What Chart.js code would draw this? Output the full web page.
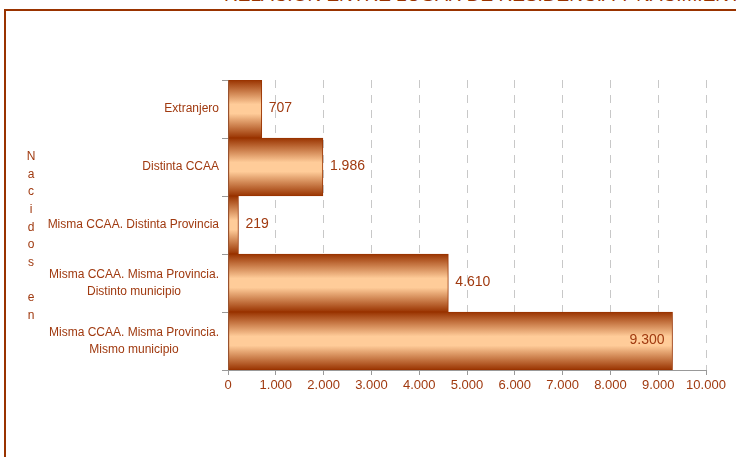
<!DOCTYPE html>
<html>
<head>
<meta charset="utf-8">
<script src="https://cdn.jsdelivr.net/npm/chart.js@4/dist/chart.umd.min.js"></script>
<style>
  html, body { margin: 0; padding: 0; background: #fff; overflow: hidden; }
  #wrap { position: relative; width: 736px; height: 457px; overflow: hidden; }
  #marco { position: absolute; left: 4px; top: 9px; width: 800px; height: 600px; border: 2px solid #993300; }
  #titulo { position: absolute; left: 224px; top: -15px; font: 19px/20px "Liberation Sans", Arial, sans-serif; color: #993300; white-space: nowrap; }
  canvas { position: absolute; left: 0; top: 0; }
</style>
</head>
<body>
<div id="wrap">
  <div id="titulo"></div>
  <div id="marco"></div>
  <canvas id="grafico" width="736" height="457"></canvas>
</div>
<script>
const titulo = 'RELACIÓN ENTRE LUGAR DE RESIDENCIA Y NACIMIENTO';
const tituloEje = 'Nacidos en';
const categorias = [
    ['Extranjero'],
    ['Distinta CCAA'],
    ['Misma CCAA. Distinta Provincia'],
    ['Misma CCAA. Misma Provincia.', 'Distinto municipio'],
    ['Misma CCAA. Misma Provincia.', 'Mismo municipio']
];
const valores = [707, 1986, 219, 4610, 9300];
const ejeMin = 0;
const ejeMax = 10000;
const ejePaso = 1000;

const colorTexto = '#a03a10';
const fuente = '"Liberation Sans", Arial, sans-serif';

document.getElementById('titulo').textContent = titulo;

// 9300 -> "9.300"
function formato(n) {
    return String(Math.round(n)).replace(/\B(?=(\d{3})+(?!\d))/g, '.');
}

// degradado vertical de cada barra: oscuro en los bordes, claro en el centro
function degradado(context) {
    const chart = context.chart;
    const area = chart.chartArea;
    if (!area) return '#e0a070';
    const alto = area.height / chart.data.labels.length;
    const yc = chart.scales.y.getPixelForValue(context.dataIndex);
    const g = chart.ctx.createLinearGradient(0, yc - alto / 2, 0, yc + alto / 2);
    g.addColorStop(0, '#993300');
    g.addColorStop(0.42, '#ffcc99');
    g.addColorStop(0.58, '#ffcc99');
    g.addColorStop(1, '#993300');
    return g;
}

const textos = {
    id: 'textos',
    afterDraw(chart) {
        const { ctx, chartArea } = chart;
        const y = chart.scales.y;
        ctx.save();
        ctx.fillStyle = colorTexto;
        ctx.textBaseline = 'middle';

        // etiquetas de categoria (lineas centradas entre si, bloque alineado a la derecha)
        ctx.font = '12px ' + fuente;
        ctx.textAlign = 'center';
        chart.data.labels.forEach((lineas, i) => {
            const yc = y.getPixelForValue(i);
            const ancho = Math.max(...lineas.map(l => ctx.measureText(l).width));
            const xc = chartArea.left - 9 - ancho / 2;
            lineas.forEach((l, j) => {
                ctx.fillText(l, xc, yc + (j - (lineas.length - 1) / 2) * 17);
            });
        });

        // titulo del eje en vertical, letra a letra
        const letras = tituloEje.split('');
        const paso = 17.6;
        const inicio = (chartArea.top + chartArea.bottom) / 2 + 11 - (letras.length - 1) / 2 * paso;
        letras.forEach((c, k) => ctx.fillText(c, 31, inicio + k * paso));

        // valores de las barras
        ctx.font = '14px ' + fuente;
        const meta = chart.getDatasetMeta(0);
        meta.data.forEach((bar, i) => {
            const txt = formato(chart.data.datasets[0].data[i]);
            const w = ctx.measureText(txt).width;
            if (bar.x + 7 + w > chartArea.right - 10) {
                ctx.textAlign = 'right';
                ctx.fillText(txt, bar.x - 8, bar.y - 1);
            } else {
                ctx.textAlign = 'left';
                ctx.fillText(txt, bar.x + 7, bar.y - 1);
            }
        });
        ctx.restore();
    }
};

new Chart(document.getElementById('grafico'), {
    type: 'bar',
    data: {
        labels: categorias,
        datasets: [{
            data: valores,
            backgroundColor: degradado,
            borderColor: '#993300',
            borderWidth: 1,
            borderSkipped: false,
            barPercentage: 1,
            categoryPercentage: 1
        }]
    },
    options: {
        indexAxis: 'y',
        responsive: false,
        animation: false,
        layout: { padding: { top: 80, right: 30, bottom: 0, left: 0 } },
        plugins: {
            legend: { display: false },
            tooltip: { enabled: false }
        },
        scales: {
            x: {
                min: ejeMin,
                max: ejeMax,
                ticks: {
                    stepSize: ejePaso,
                    callback: v => formato(v),
                    color: colorTexto,
                    font: { size: 13, family: fuente },
                    padding: 3,
                    maxRotation: 0,
                    autoSkip: false
                },
                grid: {
                    color: '#c8c8c8',
                    lineWidth: 1,
                    tickColor: '#999999',
                    tickLength: 5,
                    tickBorderDash: []
                },
                border: { color: '#999999', dash: [8, 7] },
                afterFit: s => { s.height = 87; }
            },
            y: {
                offset: true,
                ticks: { display: false },
                grid: {
                    offset: true,
                    drawOnChartArea: false,
                    tickLength: 6,
                    tickColor: '#999999'
                },
                border: { color: '#999999' },
                afterFit: s => { s.width = 228; }
            }
        }
    },
    plugins: [textos]
});
</script>
</body>
</html>
